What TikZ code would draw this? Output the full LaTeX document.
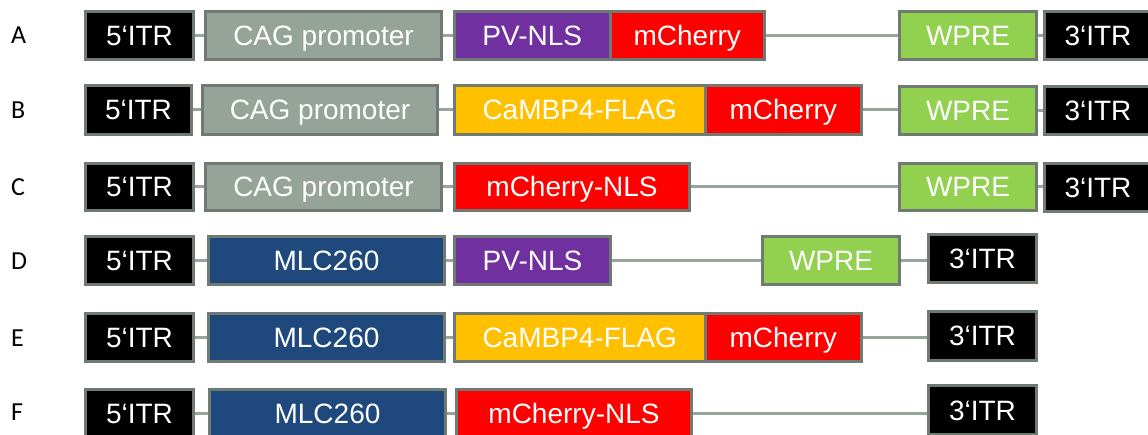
\documentclass[tikz,border=0pt]{standalone}
\usepackage{fontspec}
\setmainfont{Liberation Sans}
\newfontfamily\lblfont{Carlito}
\usetikzlibrary{backgrounds}
\definecolor{bordercol}{HTML}{6F7B72}
\definecolor{conncol}{HTML}{97A69B}
\definecolor{cagcol}{HTML}{95A398}
\definecolor{purplecol}{HTML}{7030A0}
\definecolor{redcol}{HTML}{FF0000}
\definecolor{yellowcol}{HTML}{FFC000}
\definecolor{greencol}{HTML}{92D050}
\definecolor{navycol}{HTML}{1F497D}
\tikzset{
  box/.style={draw=bordercol, line width=3pt, rectangle, inner sep=0pt,
    text=white, font=\fontsize{28}{30}\selectfont, text height=20pt, text depth=0pt},
  conn/.style={draw=conncol, line width=3pt},
  rowlabel/.style={anchor=west, inner sep=0pt, font=\lblfont\fontsize{26}{28}\selectfont, text height=16.5pt, text depth=0pt}
}
\newcommand{\bx}[7]{\node[box,fill=#6,minimum width={(#3-#2-3)*1pt},minimum height={(#5-#4-3)*1pt}] (#1) at ({(#2+#3)/2},{(#4+#5)/2}) {#7};}
\newcommand{\cn}[2]{\draw[conn] (#1.east) -- (#1.east -| #2.west);}
\begin{document}
\begin{tikzpicture}[x=1pt,y=-1pt]
\useasboundingbox (0,0) rectangle (1148,435);
% labels
\node[rowlabel] (lA) at (11,35) {A};
\node[rowlabel] (lB) at (11,110) {B};
\node[rowlabel] (lC) at (11,187) {C};
\node[rowlabel] (lD) at (11,261) {D};
\node[rowlabel] (lE) at (11,338) {E};
\node[rowlabel] (lF) at (11,412) {F};
% Row A
\bx{a1}{84}{195}{10}{61}{black}{5‘ITR}
\bx{a2}{204}{443}{10}{61}{cagcol}{CAG promoter}
\bx{a3}{453}{611.5}{10}{61}{purplecol}{PV-NLS}
\bx{a4}{608.5}{766}{10}{61}{redcol}{mCherry}
\bx{a5}{898}{1038}{10}{61}{greencol}{WPRE}
\bx{a6}{1043}{1153}{10}{61}{black}{3‘ITR}
% Row B
\bx{b1}{84}{193}{84}{136}{black}{5‘ITR}
\bx{b2}{201}{439}{84}{136}{cagcol}{CAG promoter}
\bx{b3}{453}{706.5}{84}{136}{yellowcol}{CaMBP4-FLAG}
\bx{b4}{703.5}{863}{84}{136}{redcol}{mCherry}
\bx{b5}{898}{1038}{85}{136}{greencol}{WPRE}
\bx{b6}{1043}{1153}{85}{136}{black}{3‘ITR}
% Row C
\bx{c1}{84}{195}{162}{212}{black}{5‘ITR}
\bx{c2}{204}{443}{162}{212}{cagcol}{CAG promoter}
\bx{c3}{453}{691}{162}{212}{redcol}{mCherry-NLS}
\bx{c5}{898}{1038}{162}{212}{greencol}{WPRE}
\bx{c6}{1043}{1153}{162}{213}{black}{3‘ITR}
% Row D
\bx{d1}{84}{195}{235}{286}{black}{5‘ITR}
\bx{d2}{207}{446}{235}{286}{navycol}{MLC260}
\bx{d3}{453}{612}{235}{286}{purplecol}{PV-NLS}
\bx{d5}{761}{901}{235}{286}{greencol}{WPRE}
\bx{d6}{927}{1038}{233}{284}{black}{3‘ITR}
% Row E
\bx{e1}{84}{195}{312}{363}{black}{5‘ITR}
\bx{e2}{207}{446}{312}{363}{navycol}{MLC260}
\bx{e3}{453}{706.5}{312}{363}{yellowcol}{CaMBP4-FLAG}
\bx{e4}{703.5}{863}{312}{363}{redcol}{mCherry}
\bx{e6}{927}{1038}{310}{362}{black}{3‘ITR}
% Row F
\bx{f1}{84}{195}{388}{439}{black}{5‘ITR}
\bx{f2}{208}{447}{388}{439}{navycol}{MLC260}
\bx{f3}{455}{693}{388}{439}{redcol}{mCherry-NLS}
\bx{f6}{927}{1038}{384}{436}{black}{3‘ITR}
% connectors
\begin{pgfonlayer}{background}
\fill[white] (0,0) rectangle (1148,435);
\cn{a1}{a2} \cn{a2}{a3} \cn{a4}{a5} \cn{a5}{a6}
\cn{b1}{b2} \cn{b2}{b3} \cn{b4}{b5} \cn{b5}{b6}
\cn{c1}{c2} \cn{c2}{c3} \cn{c3}{c5} \cn{c5}{c6}
\cn{d1}{d2} \cn{d2}{d3} \cn{d3}{d5} \cn{d5}{d6}
\cn{e1}{e2} \cn{e2}{e3} \cn{e4}{e6}
\cn{f1}{f2} \cn{f2}{f3} \cn{f3}{f6}
\end{pgfonlayer}
\end{tikzpicture}
\end{document}
